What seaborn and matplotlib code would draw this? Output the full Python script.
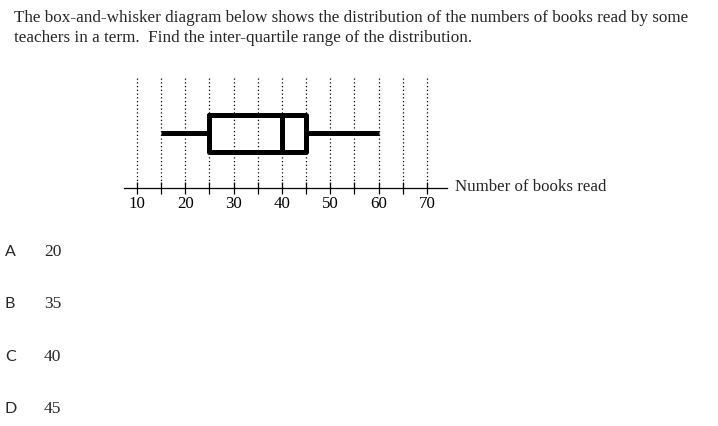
import matplotlib as mpl
import matplotlib.pyplot as plt
import numpy as np
import pandas as pd
import seaborn as sns

mpl.use('Agg')

# five-number summary of books read (min, Q1, median, Q3, max)
books_read = [15, 25, 40, 45, 60]
tick_values = list(range(10, 75, 5))
tick_labels = ['10', '', '20', '', '30', '', '40', '', '50', '', '60', '', '70']
option_letters = ['A', 'B', 'C', 'D']
option_values = ['20', '35', '40', '45']

question_lines = ['The box-and-whisker diagram below shows the distribution of the numbers of books read by some',
                  'teachers in a term.  Find the inter-quartile range of the distribution.']

sns.set_theme(style='white')
plt.rcParams['font.family'] = ['Liberation Serif', 'DejaVu Serif']

W, H = 718, 426
fig = plt.figure(figsize=(W / 100, H / 100), dpi=100)
fig.patch.set_facecolor('white')

# axes placed in pixel terms: axis line at y=188, top of grid at y=77
x0, x1 = 124, 447
y_axis, y_top = 188, 77
ax = fig.add_axes([x0 / W, (H - y_axis) / H, (x1 - x0) / W, (y_axis - y_top) / H])

df = pd.DataFrame({'books': books_read})
line_kw = dict(color='black', linewidth=3.6, solid_capstyle='butt')
sns.boxplot(data=df, x='books', orient='h', ax=ax, width=0.325, showcaps=False,
            fill=False, color='black', linewidth=3.6, whis=10,
            medianprops=line_kw, whiskerprops=line_kw)

# map data so 10 -> px 137, 70 -> px 427
px_per_unit = (427 - 137) / 60
ax.set_xlim(10 - (137 - x0) / px_per_unit, 10 + (x1 - 137) / px_per_unit)
ax.set_ylim(0.491, -0.509)

for v in tick_values:
    ax.axvline(v, color='black', linestyle=(0, (1, 2)), linewidth=0.9, zorder=0)

ax.set_xticks(tick_values)
ax.set_xticklabels(tick_labels, fontsize=12.2)
ax.tick_params(axis='x', direction='inout', length=8, width=0.9, colors='black', pad=2, bottom=True)
ax.set_yticks([])
ax.set_xlabel('')
ax.set_ylabel('')
for s in ['top', 'left', 'right']:
    ax.spines[s].set_visible(False)
ax.spines['bottom'].set_color('black')
ax.spines['bottom'].set_linewidth(0.9)
ax.set_facecolor('none')

fig.text(455 / W, 1 - 187 / H, 'Number of books read', fontsize=12.2, va='center', ha='left')

for i, line in enumerate(question_lines):
    fig.text(14 / W, 1 - (18 + i * 20) / H, line, fontsize=12.3, va='center', ha='left')

for i, (letter, val) in enumerate(zip(option_letters, option_values)):
    y = 252 + i * 52.3
    fig.text(5 / W, 1 - y / H, letter, fontsize=11.5, va='center', ha='left',
             family=['Lato', 'DejaVu Sans'])
    fig.text(44 / W, 1 - y / H, val, fontsize=12.5, va='center', ha='left')

plt.savefig('out.png', dpi=100)
plt.close()
